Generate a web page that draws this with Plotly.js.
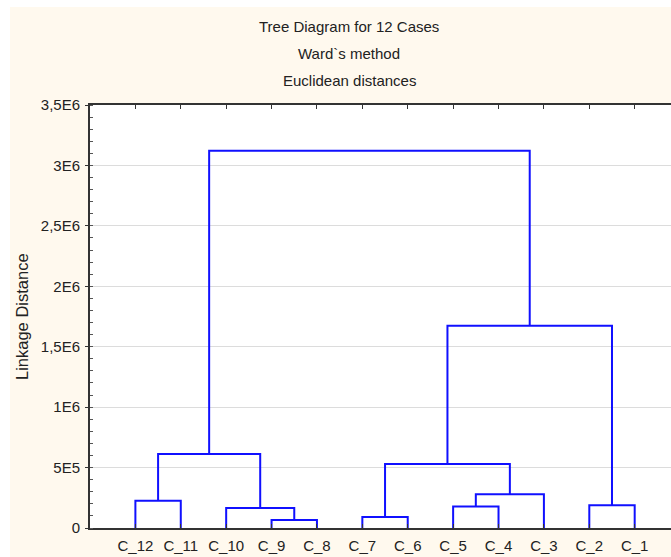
<!DOCTYPE html>
<html>
<head>
<meta charset="utf-8">
<script src="https://cdn.plot.ly/plotly-3.0.1.min.js"></script>
<style>html,body{margin:0;padding:0;background:#fff;}#chart{width:671px;height:557px;}</style>
</head>
<body>
<div id="chart"></div>
<script>
// Leaves in display order (left to right)
const leafLabels = ['C_12','C_11','C_10','C_9','C_8','C_7','C_6','C_5','C_4','C_3','C_2','C_1'];
// Merges: node ids 0..11 are leaves; merge k creates node 12+k
const mergeLeft   = [0, 3, 2, 12, 5, 7, 17, 16, 10, 19, 15];
const mergeRight  = [1, 4, 13, 14, 6, 8, 9, 18, 11, 20, 21];
const mergeHeight = [225000, 66000, 165000, 612000, 91000, 177000, 280000, 530000, 188000, 1674000, 3122000];
// Y-axis ticks
const yTickVals = [0, 500000, 1000000, 1500000, 2000000, 2500000, 3000000, 3500000];
const yTickText = ['0', '5E5', '1E6', '1,5E6', '2E6', '2,5E6', '3E6', '3,5E6'];

// Node positions
const nodeX = leafLabels.map((_, i) => i + 1);
const nodeY = leafLabels.map(() => 0);
const xs = [], ys = [];
for (let k = 0; k < mergeHeight.length; k++) {
  const a = mergeLeft[k], b = mergeRight[k], h = mergeHeight[k];
  xs.push(nodeX[a], nodeX[a], nodeX[b], nodeX[b], null);
  ys.push(nodeY[a], h, h, nodeY[b], null);
  nodeX.push((nodeX[a] + nodeX[b]) / 2);
  nodeY.push(h);
}

const font = {family: 'Liberation Sans, Arial, sans-serif', size: 15, color: '#222'};
const trace = {
  x: xs, y: ys, mode: 'lines', type: 'scatter',
  line: {color: '#1010ff', width: 2}, hoverinfo: 'skip', showlegend: false
};

const L = 90, T = 105, B = 29, W = 671, H = 557;
const pw = W - L, ph = H - T - B;
const px = v => (v - L) / pw;
const py = v => (H - B - v) / ph;

const layout = {
  width: W, height: H,
  margin: {l: L, r: 0, t: T, b: B, pad: 0},
  paper_bgcolor: '#ffffff',
  plot_bgcolor: '#ffffff',
  font: font,
  showlegend: false,
  xaxis: {
    range: [0, 12.8], tickvals: leafLabels.map((_, i) => i + 1), ticktext: leafLabels,
    showgrid: false, zeroline: false, showline: true, linecolor: '#333', linewidth: 2,
    mirror: 'ticks', ticks: 'inside', ticklen: 4, tickcolor: '#333', tickwidth: 1,
    tickfont: font, ticklabelstandoff: 3, fixedrange: true
  },
  yaxis: {
    range: [0, 3500000], tickvals: yTickVals, ticktext: yTickText,
    showgrid: true, gridcolor: '#dcdcdc', gridwidth: 1, zeroline: false,
    showline: true, linecolor: '#333', linewidth: 2, mirror: false,
    ticks: 'outside', ticklen: 3, tickcolor: '#333', tickwidth: 1,
    minor: {ticks: 'inside', ticklen: 3, dtick: 100000, tick0: 0, tickcolor: '#555', showgrid: false},
    tickfont: font, ticklabelstandoff: 2, fixedrange: true
  },
  shapes: [
    {type: 'rect', xref: 'paper', yref: 'paper', layer: 'below',
     x0: px(10), x1: 1.2, y0: py(H + 5), y1: py(7),
     fillcolor: '#fff9ee', line: {width: 0}},
    {type: 'rect', xref: 'paper', yref: 'paper', layer: 'below',
     x0: 0, x1: 1, y0: 0, y1: 1, fillcolor: '#ffffff', line: {width: 0}}
  ],
  annotations: [
    {text: 'Tree Diagram for 12 Cases', xref: 'paper', yref: 'paper', x: px(349), y: py(27), showarrow: false, font: font, xanchor: 'center', yanchor: 'middle'},
    {text: 'Ward`s method', xref: 'paper', yref: 'paper', x: px(349), y: py(54), showarrow: false, font: font, xanchor: 'center', yanchor: 'middle'},
    {text: 'Euclidean distances', xref: 'paper', yref: 'paper', x: px(349), y: py(81), showarrow: false, font: font, xanchor: 'center', yanchor: 'middle'},
    {text: 'Linkage Distance', xref: 'paper', yref: 'paper', x: px(22), y: py(317), showarrow: false,
     font: {family: font.family, size: 16.5, color: '#222'}, textangle: -90, xanchor: 'center', yanchor: 'middle'}
  ]
};

Plotly.newPlot('chart', [trace], layout, {displayModeBar: false, staticPlot: true});
</script>
</body>
</html>
